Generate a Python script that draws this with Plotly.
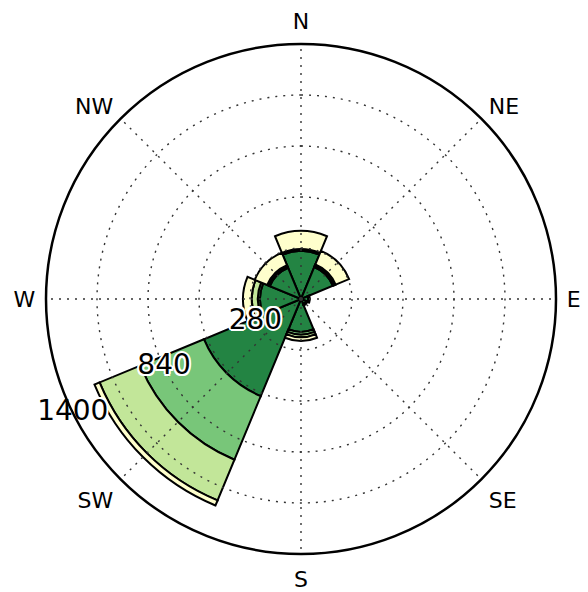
import numpy as np
import plotly.graph_objects as go

# Wind direction sectors (compass bearing, degrees) and their labels
directions = ["N", "NE", "E", "SE", "S", "SW", "W", "NW"]
bearings = [0, 45, 90, 135, 180, 225, 270, 315]

# Frequency per direction for each speed bin (stacked from the centre outwards)
bin_1 = [264, 190, 40, 30, 180, 577, 225, 185]
bin_2 = [5, 8, 3, 3, 15, 378, 12, 8]
bin_3 = [5, 8, 3, 3, 15, 242, 33, 8]
bin_4 = [99, 80, 3, 3, 20, 30, 48, 74]
bins = [bin_1, bin_2, bin_3, bin_4]
bin_colors = ["#238443", "#78c679", "#c2e699", "#ffffcc"]

# Radial grid
r_max = 1400
grid_radii = [280, 560, 840, 1120]
label_radii = [280, 840, 1400]
label_texts = ["280", "840", "1400"]
label_bearing = 243.5

fig = go.Figure()

for values, color in zip(bins, bin_colors):
    fig.add_trace(go.Barpolar(
        r=values,
        theta=bearings,
        width=[45] * len(bearings),
        marker=dict(color=color, line=dict(color="black", width=2)),
        hoverinfo="skip",
        showlegend=False,
    ))

# Dotted grid drawn above the bars
dot_style = dict(color="#333333", width=1.4, dash="2px,6px")
ring_theta = np.linspace(0, 360, 361)
for rad in grid_radii:
    fig.add_trace(go.Scatterpolar(
        r=[rad] * len(ring_theta), theta=ring_theta, mode="lines",
        line=dot_style, hoverinfo="skip", showlegend=False,
    ))
for b in bearings:
    fig.add_trace(go.Scatterpolar(
        r=[0, r_max], theta=[b, b], mode="lines",
        line=dot_style, hoverinfo="skip", showlegend=False,
    ))

# Radial value labels with a white halo
halo = ("2px 0 0 white, -2px 0 0 white, 0 2px 0 white, 0 -2px 0 white, "
        "1.5px 1.5px 0 white, -1.5px -1.5px 0 white, 1.5px -1.5px 0 white, -1.5px 1.5px 0 white")
fig.add_trace(go.Scatterpolar(
    r=label_radii, theta=[label_bearing] * len(label_radii),
    mode="text", text=label_texts, textposition="middle center",
    textfont=dict(family="DejaVu Sans", size=28, color="black", shadow=halo),
    hoverinfo="skip", showlegend=False,
))

fig.update_layout(
    width=588, height=592,
    margin=dict(l=0, r=0, t=0, b=0),
    paper_bgcolor="white",
    showlegend=False,
    polar=dict(
        domain=dict(x=[46 / 588, 556 / 588], y=[38 / 592, 548 / 592]),
        bgcolor="white",
        barmode="stack",
        angularaxis=dict(
            direction="clockwise", rotation=90,
            tickmode="array", tickvals=bearings, ticktext=directions,
            tickfont=dict(family="DejaVu Sans", size=22, color="black"),
            ticks="outside", ticklen=5, tickcolor="rgba(0,0,0,0)",
            showgrid=False, showline=True, linecolor="black", linewidth=2.5,
        ),
        radialaxis=dict(
            range=[0, r_max], showgrid=False, showline=False,
            showticklabels=False, ticks="",
        ),
    ),
)

fig.write_html("out.html")
